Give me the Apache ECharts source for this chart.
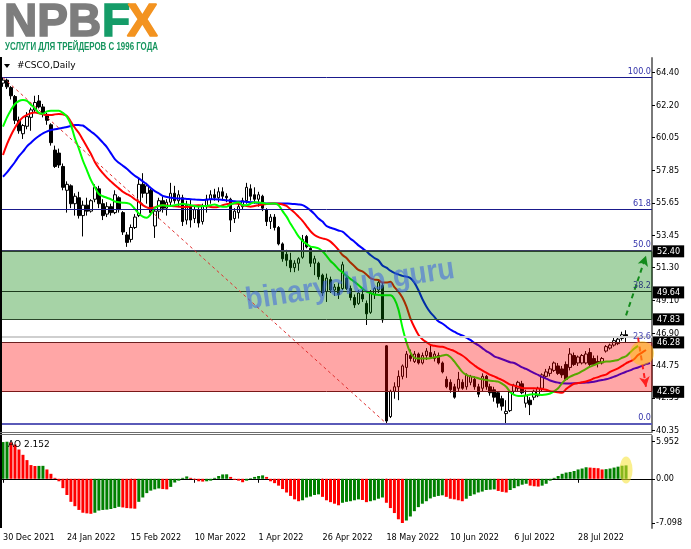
<!DOCTYPE html>
<html><head><meta charset="utf-8">
<script src="https://cdn.jsdelivr.net/npm/echarts@6/dist/echarts.min.js"></script>
<style>html,body{margin:0;padding:0;background:#fff;overflow:hidden}#c{width:691px;height:549px}</style>
</head><body><div id="c"></div>
<script>
// ---------- DATA ----------
// daily candles [open, high, low, close], 30 Dec 2021 ... mid Aug 2022
const candles = [
[63.7,64.07,63.45,63.9],[63.9,64.0,63.3,63.45],[63.4,63.5,62.6,62.85],[62.8,62.9,60.95,61.2],[61.2,61.45,60.3,60.5],
[60.3,60.95,59.95,60.85],[60.8,61.75,60.6,61.45],[61.4,62.05,60.5,61.9],[61.9,62.85,61.7,62.4],[62.5,62.9,62.0,62.1],
[62.1,62.3,61.4,61.6],[61.6,61.7,60.9,61.2],[60.9,61.0,59.5,59.7],[59.2,59.5,58.0,58.1],[59.0,59.3,58.0,58.2],
[58.1,58.3,56.5,56.7],[56.5,57.1,55.0,56.9],[56.8,56.9,55.3,55.6],[55.6,56.3,54.8,56.1],[56.0,56.4,54.6,54.8],
[54.8,55.8,53.4,55.5],[55.5,56.0,54.8,55.1],[55.1,55.9,55.0,55.8],[55.9,56.9,55.7,56.7],[56.6,56.8,55.3,55.6],
[55.6,55.9,54.5,54.8],[54.9,55.7,54.7,55.4],[55.4,55.6,54.8,55.0],[55.0,56.5,54.9,56.2],[56.0,56.1,55.0,55.2],
[55.0,55.1,53.5,53.7],[53.5,53.7,52.7,53.0],[53.2,54.2,53.0,54.0],[54.0,54.9,53.9,54.7],[54.8,57.3,54.7,56.9],
[56.9,57.65,56.0,56.3],[56.3,57.0,55.6,56.8],[56.5,56.6,54.8,55.0],[54.1,55.3,53.3,55.1],[55.1,56.0,54.6,55.8],
[55.8,56.1,55.0,55.3],[55.3,55.9,54.8,55.7],[55.7,57.0,55.5,56.3],[56.3,56.8,55.6,55.8],[55.8,56.5,55.4,56.2],
[56.0,56.2,54.1,54.4],[54.5,55.8,54.2,55.5],[55.4,55.9,54.0,54.5],[54.6,55.5,54.3,55.2],[55.2,55.4,54.0,54.3],
[54.4,55.6,54.2,55.4],[55.4,56.2,55.0,55.9],[55.9,56.5,55.6,56.2],[56.2,56.6,55.8,56.0],[56.0,56.7,55.7,56.4],
[56.4,56.7,55.9,56.1],[56.1,56.3,55.7,56.0],[55.9,56.0,53.7,54.5],[54.6,55.3,54.3,55.1],[55.0,55.6,54.6,55.4],
[55.4,56.0,55.2,55.8],[55.8,57.0,55.6,56.7],[56.6,56.9,55.8,56.1],[56.2,56.7,55.6,55.9],[55.9,56.4,55.4,56.2],
[56.1,56.2,55.1,55.3],[55.2,55.3,54.1,54.4],[54.4,54.9,53.9,54.7],[54.7,54.9,53.8,54.0],[54.0,54.1,52.8,52.9],
[52.9,53.0,51.7,51.9],[52.2,52.5,51.4,51.8],[51.8,52.3,51.0,51.3],[51.3,51.8,51.0,51.6],[51.6,52.0,51.1,51.9],
[52.0,53.5,51.9,53.2],[53.4,53.5,52.6,52.7],[52.6,52.7,51.35,51.6],[51.6,52.1,50.8,51.9],[51.6,51.7,50.5,50.7],
[50.8,50.9,49.4,49.6],[49.7,50.9,49.0,50.6],[50.5,50.7,49.6,49.8],[49.8,50.2,49.4,50.0],[50.0,50.3,49.2,49.5],
[49.9,51.7,49.8,51.5],[50.6,50.8,49.8,49.9],[49.9,50.1,49.1,49.3],[49.3,49.5,48.6,48.8],[48.9,49.8,48.8,49.6],
[49.5,49.9,49.0,49.2],[48.9,49.1,47.45,48.2],[48.3,49.8,48.2,49.6],[49.5,50.0,49.2,49.9],[49.8,50.5,49.6,50.3],
[50.1,50.3,47.6,47.8],[46.05,46.1,40.85,41.0],[41.3,43.1,41.2,43.0],[43.0,43.6,42.5,43.3],[43.3,44.4,42.4,44.0],
[44.0,44.8,43.8,44.7],[44.6,45.7,43.9,45.5],[45.4,45.8,45.0,45.2],[45.0,45.7,44.9,45.5],[45.5,45.6,44.8,44.9],
[44.9,45.6,44.8,45.4],[45.4,45.9,45.1,45.7],[45.6,46.1,45.2,45.3],[45.2,45.7,45.0,45.5],[45.4,45.6,44.8,44.9],
[44.9,45.0,44.2,44.3],[43.8,44.0,43.2,43.3],[43.6,43.8,42.9,43.1],[43.3,43.5,42.5,42.6],[43.2,44.3,43.0,43.8],
[43.6,43.8,43.1,43.2],[43.3,44.2,43.1,44.1],[43.6,44.1,43.4,44.0],[43.8,44.0,43.1,43.3],[43.3,43.5,42.6,42.8],
[43.2,44.2,43.0,44.0],[44.0,44.1,43.1,43.3],[43.3,43.5,42.7,42.9],[43.1,43.3,42.3,42.6],[42.9,43.0,41.9,42.2],
[42.5,42.7,41.7,42.0],[41.5,42.4,40.85,41.65],[41.7,43.0,41.6,42.95],[43.0,43.5,42.8,43.4],[43.2,43.7,43.0,43.6],
[43.5,43.7,42.8,42.9],[42.2,43.1,41.9,42.7],[42.4,42.6,41.4,42.1],[42.6,43.1,42.4,43.0],[42.7,43.3,42.6,43.2],
[43.2,44.2,43.0,44.1],[44.0,44.5,43.9,44.3],[44.2,44.7,44.0,44.5],[44.4,45.0,44.3,44.9],[44.7,44.9,44.1,44.2],
[44.5,44.7,43.9,44.1],[44.8,45.0,43.7,43.8],[44.6,45.9,44.4,45.5],[45.4,45.6,44.7,44.8],[44.9,45.4,44.7,45.3],
[44.9,45.5,44.8,45.4],[44.9,45.7,44.8,45.5],[45.6,45.9,44.7,44.8],[45.2,45.4,44.7,44.8],[45.0,45.4,44.6,44.9],
[44.9,45.3,44.8,45.2],[45.7,46.1,45.6,46.0],[45.9,46.2,45.8,46.1],[46.1,46.6,46.0,46.4],[46.2,46.7,46.1,46.5],
[46.55,47.0,46.4,46.8],[46.8,47.1,46.3,46.67]
];
// Alligator lines (lips green, teeth red, jaw blue), one value per bar slot
const lips = [60.77,61.4,61.9,62.3,62.5,62.56,62.5,62.25,62.0,61.7,61.65,61.8,61.85,61.85,61.85,61.7,61.45,60.9,60.0,59.3,
58.5,57.86,57.2,56.7,56.25,56.1,56.0,55.9,55.75,55.7,55.67,55.65,55.55,55.25,54.95,54.73,54.65,54.9,55.3,55.45,
55.5,55.45,55.45,55.5,55.55,55.6,55.55,55.5,55.45,55.4,55.45,55.45,55.5,55.55,55.45,55.4,55.4,55.55,55.65,55.7,
55.5,55.5,55.6,55.7,55.68,55.65,55.6,55.6,55.62,55.5,55.1,54.73,54.25,53.83,53.4,53.1,52.9,52.72,52.67,52.6,
52.4,52.1,51.75,51.5,51.2,51.0,50.75,50.55,50.35,50.14,49.9,49.7,49.6,49.5,49.47,49.45,49.45,49.45,49.2,48.5,
47.3,46.3,45.6,45.25,45.2,45.2,45.2,45.22,45.28,45.32,45.4,45.45,45.3,45.0,44.65,44.3,44.1,44.0,43.95,43.87,
43.8,43.75,43.7,43.68,43.65,43.5,43.3,42.95,42.75,42.68,42.68,42.72,42.78,42.8,42.78,42.75,42.78,42.85,43.0,43.2,
43.55,43.8,43.98,44.1,44.2,44.35,44.5,44.65,44.75,44.88,44.95,45.0,45.0,45.05,45.1,45.25,45.35,45.6,45.85,46.05];
const teeth = [58.87,59.6,60.2,60.7,61.11,61.4,61.56,61.68,61.72,61.68,61.6,61.55,61.55,61.6,61.62,61.6,61.5,61.1,60.7,60.35,
59.9,59.43,58.95,58.4,57.98,57.65,57.35,57.1,56.85,56.63,56.4,56.25,56.1,55.9,55.74,55.5,55.35,55.29,55.35,55.45,
55.5,55.48,55.45,55.42,55.4,55.38,55.37,55.42,55.48,55.5,55.45,55.43,55.38,55.36,55.4,55.5,55.57,55.62,55.62,55.6,
55.5,55.45,55.4,55.45,55.5,55.55,55.58,55.62,55.62,55.6,55.55,55.45,55.22,55.0,54.73,54.45,54.1,53.75,53.5,53.35,
53.27,53.2,53.05,52.8,52.5,52.15,51.95,51.65,51.4,51.15,51.05,50.85,50.6,50.5,50.47,50.3,50.3,50.36,50.0,49.7,
49.3,48.7,47.9,47.3,46.8,46.5,46.3,46.12,46.05,46.0,45.99,45.9,45.8,45.7,45.55,45.4,45.2,44.95,44.75,44.55,
44.4,44.25,44.1,44.0,43.87,43.75,43.6,43.45,43.38,43.31,43.22,43.2,43.2,43.2,43.18,43.15,43.1,43.0,42.97,42.93,
42.9,43.15,43.35,43.5,43.55,43.6,43.65,43.75,43.87,43.95,44.05,44.12,44.3,44.42,44.54,44.7,44.88,45.0,45.15,45.43,
45.6,45.77];
const jaw = [57.41,57.7,58.05,58.4,58.8,59.1,59.45,59.7,59.95,60.15,60.33,60.45,60.55,60.6,60.65,60.7,60.75,60.82,60.89,60.88,
60.85,60.66,60.45,60.25,60.0,59.7,59.4,59.0,58.6,58.35,58.15,57.95,57.7,57.48,57.3,57.1,56.9,56.65,56.45,56.3,
56.12,56.05,56.0,55.96,55.95,55.94,55.92,55.9,55.88,55.86,55.85,55.87,55.9,55.9,55.88,55.85,55.82,55.8,55.77,55.75,
55.74,55.72,55.7,55.68,55.66,55.64,55.62,55.62,55.62,55.62,55.62,55.61,55.6,55.58,55.55,55.5,55.35,55.15,54.9,54.6,
54.4,54.1,53.98,53.9,53.8,53.72,53.5,53.25,53.05,52.8,52.6,52.4,52.15,51.95,51.8,51.45,51.3,51.1,50.95,50.85,
50.75,50.7,50.6,50.3,49.8,49.2,48.7,48.3,48.0,47.7,47.55,47.35,47.15,47.0,46.85,46.75,46.6,46.45,46.25,46.1,
45.9,45.7,45.55,45.35,45.25,45.15,45.05,44.95,44.9,44.75,44.6,44.5,44.35,44.22,44.1,43.95,43.85,43.72,43.64,43.58,
43.53,43.52,43.52,43.53,43.55,43.57,43.58,43.6,43.64,43.7,43.75,43.8,43.88,43.98,44.08,44.2,44.31,44.4,44.52,44.6,
44.7,44.82,44.9];
// Awesome Oscillator histogram
const ao = [5.9,5.952,5.85,5.5,4.7,3.85,3.0,2.2,2.05,2.07,2.08,1.5,0.8,0.15,-0.4,-1.5,-2.6,-3.7,-4.4,-5.0,
-5.45,-5.55,-5.62,-5.45,-5.1,-5.0,-4.95,-4.85,-4.7,-4.5,-4.6,-4.7,-4.75,-4.8,-3.7,-3.0,-2.3,-1.9,-1.7,-1.55,
-1.65,-1.7,-1.3,-0.6,-0.3,0.15,0.38,0.15,-0.15,-0.4,-0.45,-0.4,-0.3,0.15,0.45,0.7,0.72,0.3,-0.15,-0.3,
-0.55,-0.3,0.1,0.3,0.45,0.55,0.3,-0.4,-0.7,-1.1,-1.65,-2.2,-2.75,-3.3,-3.6,-3.45,-3.0,-2.85,-2.6,-2.5,
-2.9,-3.45,-3.75,-4.0,-4.25,-3.85,-3.7,-3.6,-3.45,-3.3,-3.4,-3.75,-3.6,-3.45,-3.2,-3.0,-3.85,-4.7,-5.5,-6.5,
-7.098,-6.7,-6.05,-5.2,-4.55,-4.0,-3.6,-3.15,-2.9,-2.75,-2.65,-2.9,-3.2,-3.3,-3.45,-3.6,-3.2,-2.75,-2.5,-2.2,
-2.05,-1.8,-1.75,-1.7,-1.95,-2.1,-2.2,-1.8,-1.5,-1.2,-0.95,-0.8,-1.1,-1.2,-1.25,-1.1,-0.8,-0.3,0.15,0.45,
0.8,1.0,1.1,1.25,1.5,1.65,1.85,1.8,1.75,1.7,1.5,1.55,1.65,1.8,1.95,2.1,2.152];
const slotCount = 163;
const timeTickIdx = [0,16,32,48,64,80,96,112,128,144];
const timeTickLabels = ['30 Dec 2021','24 Jan 2022','15 Feb 2022','10 Mar 2022','1 Apr 2022','26 Apr 2022','18 May 2022','10 Jun 2022','6 Jul 2022','28 Jul 2022'];
const priceTicks = [64.40,62.20,60.05,57.85,55.65,53.45,51.30,49.10,46.90,44.75,42.55,40.35];
const aoTicks = [5.952,0,-7.098];
const aoTickLabels = ['5.952','0.00','-7.098'];
const fibNames = ['100.0','61.8','50.0','38.2','23.6','0.0'];
const fibValues = [64.07,55.20,52.45,49.72,46.32,40.83];
const zoneBounds = [[52.40,47.83],[46.28,42.96]];
const priceBoxes = [52.40,49.64,47.83,46.28,42.96];
const bidPrice = 46.67;
const trendLine = [[0,64.07],[96,40.83]];
const upArrow = [[156,48.1],[161,52.1]];
const downArrow = [[159,46.6],[161,43.3]];
const highlightMain = [160,45.55];
const highlightAO = [156,1.4];

// ---------- CHART ----------
const FONT = '"DejaVu Sans Condensed", "DejaVu Sans", sans-serif';
const cats = Array.from({length: slotCount}, (_, i) => String(i));
const zoneStyle = [
  {fill:'rgba(0,128,0,0.35)', stroke:'#2b472b'},
  {fill:'rgba(255,0,0,0.35)', stroke:'#7a1818'}
];
const fibColors = ['#1a1a8c','#1a1a8c','#3a3a60','#1c3a1c','#6b2020','#5a5ab8'];
const fibLabelColors = ['#3333aa','#3333aa','#3333aa','#2a3a7a','#4a4ab0','#3333aa'];
const isTick = (idx) => timeTickIdx.indexOf(idx) >= 0;

const subtitle = 'УСЛУГИ ДЛЯ ТРЕЙДЕРОВ С 1996 ГОДА';
const mctx = document.createElement('canvas').getContext('2d');
mctx.font = 'bold 11px "Liberation Sans"';
const subScale = 153 / mctx.measureText(subtitle).width;

const chart = echarts.init(document.getElementById('c'), null, {renderer:'canvas'});
const option = {
  animation: false,
  backgroundColor: '#ffffff',
  grid: [
    {left: 1, right: 39, top: 58, height: 374},
    {left: 1, right: 39, top: 436, height: 92}
  ],
  xAxis: [
    {type:'category', gridIndex:0, data:cats, boundaryGap:true,
     axisLine:{show:false}, axisTick:{show:false}, axisLabel:{show:false}, splitLine:{show:false}},
    {type:'category', gridIndex:1, data:cats, boundaryGap:true,
     axisLine:{show:true, lineStyle:{color:'#000', width:1}},
     axisTick:{show:true, alignWithLabel:true, length:4, interval:(i)=>isTick(i), lineStyle:{color:'#000'}},
     axisLabel:{show:true, interval:(i)=>isTick(i), align:'left', margin:5,
       formatter:(v, i)=>timeTickLabels[timeTickIdx.indexOf(i)] || '',
       fontFamily:FONT, fontSize:9, color:'#000'},
     splitLine:{show:false}}
  ],
  yAxis: [
    {type:'value', gridIndex:0, position:'right', min:40.2625, max:65.3875, scale:true,
     axisLine:{show:true, lineStyle:{color:'#7a7a7a', width:2}},
     axisTick:{show:true, length:3, customValues:priceTicks, lineStyle:{color:'#000'}},
     axisLabel:{show:true, customValues:priceTicks, formatter:(v)=>v.toFixed(2), margin:4,
       fontFamily:FONT, fontSize:9, color:'#000'},
     splitLine:{show:false}},
    {type:'value', gridIndex:1, position:'right', min:-7.90, max:6.87,
     axisLine:{show:true, lineStyle:{color:'#7a7a7a', width:2}},
     axisTick:{show:true, length:3, customValues:aoTicks, lineStyle:{color:'#000'}},
     axisLabel:{show:true, customValues:aoTicks, margin:4,
       formatter:(v)=>{ const k = aoTicks.findIndex(t=>Math.abs(t-v)<1e-6); return k>=0 ? aoTickLabels[k] : ''; },
       fontFamily:FONT, fontSize:9, color:'#000'},
     splitLine:{show:false}}
  ],
  series: [
    {type:'candlestick', name:'CSCO', xAxisIndex:0, yAxisIndex:0, z:2, barWidth:3,
     data: candles.map(c=>[c[0], c[3], c[2], c[1]]),
     itemStyle:{color:'#ffffff', color0:'#000000', borderColor:'#000000', borderColor0:'#000000', borderWidth:1}},
    {type:'line', name:'Jaw', xAxisIndex:0, yAxisIndex:0, z:3, data:jaw, symbol:'none', smooth:0.3,
     lineStyle:{color:'#0000ff', width:2}},
    {type:'line', name:'Teeth', xAxisIndex:0, yAxisIndex:0, z:3, data:teeth, symbol:'none', smooth:0.3,
     lineStyle:{color:'#ff0000', width:2}},
    {type:'line', name:'Lips', xAxisIndex:0, yAxisIndex:0, z:3, data:lips, symbol:'none', smooth:0.3,
     lineStyle:{color:'#00ff00', width:2}},
    {type:'custom', name:'zones', xAxisIndex:0, yAxisIndex:0, z:4, silent:true,
     data: zoneBounds.map(b=>[0, b[0], b[1]]),
     renderItem:(params, api)=>{
       const cs = params.coordSys;
       const y1 = api.coord([0, api.value(1)])[1];
       const y2 = api.coord([0, api.value(2)])[1];
       const st = zoneStyle[params.dataIndex];
       return {type:'rect', shape:{x:cs.x, y:Math.round(Math.min(y1,y2))+0.5, width:cs.width, height:Math.round(Math.abs(y2-y1))},
               style:{fill:st.fill, stroke:st.stroke, lineWidth:1}};
     }},
    {type:'line', name:'marks', xAxisIndex:0, yAxisIndex:0, z:10, data:[], silent:true,
     markLine:{silent:true, symbol:'none', animation:false,
       data: [].concat(
         fibValues.map((v,k)=>({yAxis:v, lineStyle:{color:fibColors[k], width:k===5?2:1, type:'solid'},
           label:{show:true, position:'insideEndTop', formatter:fibNames[k], color:fibLabelColors[k], fontFamily:FONT, fontSize:9, distance:[1,1]}})),
         [{yAxis:bidPrice, lineStyle:{color:'#cfcfcf', width:2, type:'solid'}, label:{show:false}}],
         [[{coord:trendLine[0]},{coord:trendLine[1], lineStyle:{color:'#e03030', width:1, type:[3,3]}, label:{show:false}}]],
         [[{coord:upArrow[0], symbol:'none'},{coord:upArrow[1], symbol:'arrow', symbolSize:[8,10], lineStyle:{color:'#138a1b', width:2, type:[5,4]}, label:{show:false}}]],
         [[{coord:downArrow[0], symbol:'none'},{coord:downArrow[1], symbol:'arrow', symbolSize:[8,10], lineStyle:{color:'#ff2020', width:2, type:[5,4]}, label:{show:false}}]]
       )},
     markPoint:{silent:true, animation:false,
       data:[{coord:highlightMain, symbol:'circle', symbolSize:24, itemStyle:{color:'rgba(255,190,0,0.5)'}, label:{show:false}}]}
    },
    {type:'line', name:'boxes', xAxisIndex:0, yAxisIndex:0, z:12, data:[], silent:true,
     markLine:{silent:true, symbol:'none', animation:false,
       lineStyle:{color:'rgba(0,0,0,0)', width:0},
       data: priceBoxes.map(v=>({yAxis:v, label:{show:true, position:'end', formatter:v.toFixed(2),
           color:'#ffffff', backgroundColor:'#000000', padding:[2,4,1,4], fontFamily:FONT, fontSize:9, distance:1}}))}
    },
    {type:'bar', name:'AO', xAxisIndex:1, yAxisIndex:1, barWidth:3, z:2,
     data: ao.map((v,i)=>({value:v, itemStyle:{color:(i===0 || v>=ao[i-1]) ? '#008000' : '#ff0000'}})),
     markPoint:{silent:true, animation:false,
       data:[{coord:highlightAO, symbol:'circle', symbolSize:[13,27], itemStyle:{color:'rgba(245,225,50,0.55)'}, label:{show:false}}]}
    }
  ],
  graphic: [
    {type:'line', shape:{x1:1, y1:57, x2:1, y2:528}, style:{stroke:'#000', lineWidth:2}, z:50},
    {type:'line', shape:{x1:0, y1:432.5, x2:652, y2:432.5}, style:{stroke:'#6e6e6e', lineWidth:1}, z:50},
    {type:'line', shape:{x1:0, y1:434.5, x2:652, y2:434.5}, style:{stroke:'#6e6e6e', lineWidth:1}, z:50},
    {type:'text', x:4, y:23, style:{text:'NPB', font:'bold 46px "Liberation Sans"', fill:'#7d7d7d', stroke:'#7d7d7d', lineWidth:1.6, verticalAlign:'middle', textVerticalAlign:'middle'}, z:50},
    {type:'text', x:102, y:23, style:{text:'F', font:'bold 46px "Liberation Sans"', fill:'#159c68', stroke:'#159c68', lineWidth:1.6, verticalAlign:'middle', textVerticalAlign:'middle'}, z:50},
    {type:'text', x:127, y:23, style:{text:'X', font:'bold 46px "Liberation Sans"', fill:'#f39320', stroke:'#f39320', lineWidth:1.6, verticalAlign:'middle', textVerticalAlign:'middle'}, z:51},
    {type:'text', x:5, y:47, scaleX:subScale, originX:0, originY:0,
     style:{text:subtitle, font:'bold 11px "Liberation Sans"', fill:'#17955f', verticalAlign:'middle', textVerticalAlign:'middle'}, z:50},
    {type:'polygon', shape:{points:[[4,64],[10,64],[7,68]]}, style:{fill:'#000'}, z:50},
    {type:'text', x:17, y:66, style:{text:'#CSCO,Daily', font:'9px "DejaVu Sans"', fill:'#000', verticalAlign:'middle', textVerticalAlign:'middle'}, z:50},
    {type:'text', x:8, y:445, style:{text:'AO 2.152', font:'9px "DejaVu Sans"', fill:'#000', verticalAlign:'middle', textVerticalAlign:'middle'}, z:50},
    {type:'text', x:350, y:285, rotation:0.15, scaleX:0.9,
     style:{text:'binaryclub.guru', font:'bold 31px "Liberation Sans"', fill:'rgba(60,100,225,0.55)', align:'center', verticalAlign:'middle', textAlign:'center', textVerticalAlign:'middle'}, z:60}
  ]
};
chart.setOption(option);
</script>
</body></html>
